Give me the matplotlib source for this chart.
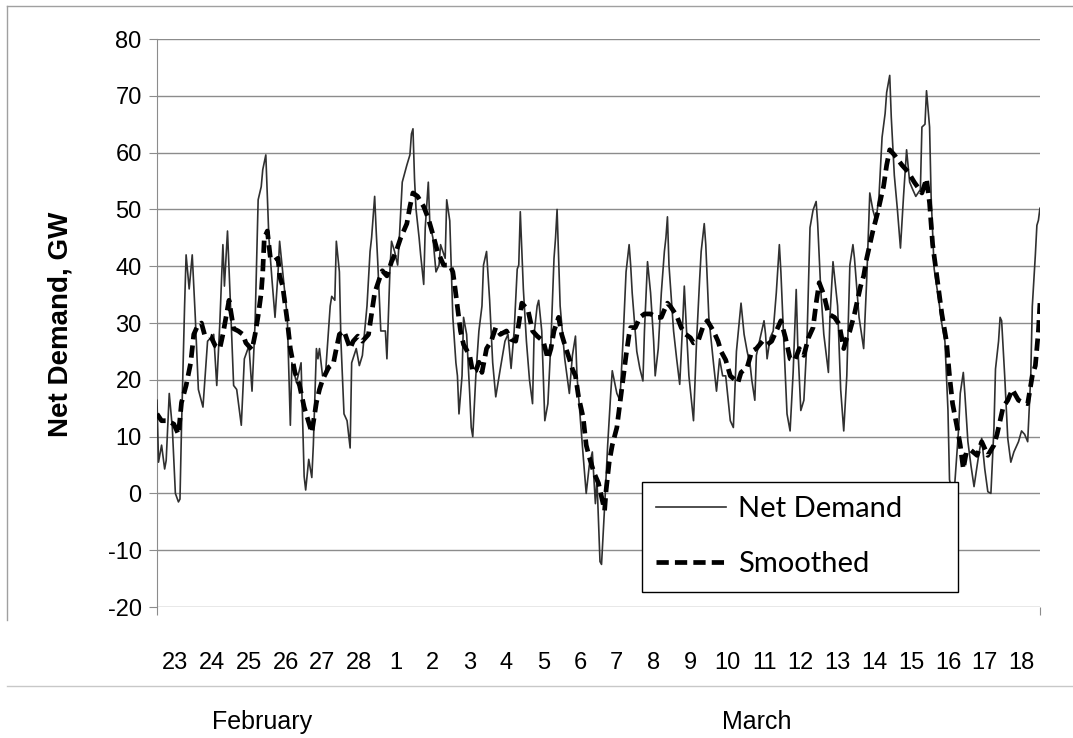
import numpy as np
import matplotlib.pyplot as plt
from matplotlib.lines import Line2D
import matplotlib.transforms as mtransforms

plt.rcParams['axes.unicode_minus'] = False

# hours since 00:00 Feb 23, net demand in GW
nd_hours = [0, 1, 3, 5, 6, 8, 10, 12, 14, 15, 16, 18, 19, 21, 23, 25, 27, 30, 33, 37,
            39, 41, 43, 44, 46, 48, 50, 52, 55, 57, 60, 62, 64, 66, 68, 69, 71, 73, 75, 77,
            79, 80, 82, 85, 87, 88, 91, 94, 96, 97, 99, 101, 102, 104, 105, 106, 108, 110, 113, 114,
            116, 117, 119, 120, 122, 124, 126, 127, 130, 132, 134, 137, 139, 140, 142, 143, 144, 146, 149, 150,
            152, 153, 155, 157, 158, 160, 163, 165, 166, 167, 168, 169, 171, 172, 174, 175, 177, 178, 180, 182,
            184, 185, 188, 189, 191, 193, 195, 196, 197, 199, 200, 202, 204, 205, 206, 208, 210, 212, 213, 215,
            217, 219, 221, 224, 227, 229, 231, 233, 235, 236, 237, 239, 241, 243, 245, 246, 248, 249, 251, 253,
            255, 257, 259, 260, 261, 263, 266, 269, 271, 273, 274, 278, 280, 282, 284, 286, 287, 289, 290, 292,
            294, 296, 297, 300, 302, 304, 306, 308, 309, 310, 313, 315, 317, 318, 320, 322, 324, 325, 327, 329,
            331, 332, 333, 334, 337, 339, 341, 343, 344, 345, 347, 350, 352, 354, 355, 357, 358, 360, 363, 365,
            367, 369, 371, 374, 376, 378, 381, 383, 385, 387, 388, 390, 391, 393, 396, 397, 398, 400, 402, 404,
            406, 407, 409, 411, 413, 415, 417, 418, 420, 422, 424, 426, 428, 430, 431, 433, 435, 438, 439, 441,
            444, 446, 448, 450, 452, 454, 455, 458, 460, 461, 463, 465, 467, 469, 471, 473, 475, 476, 478, 479,
            481, 483, 485, 487, 489, 491, 493, 495, 498, 499, 501, 502, 504, 505, 507, 510, 512, 514, 516, 517,
            519, 520, 523, 524, 526, 527, 529, 531, 533, 536, 538, 540, 542, 544, 546, 547, 549, 550, 551, 553,
            555, 557, 559, 562, 564, 566, 568, 570, 571, 573, 574, 575, 576]
nd_gw = [16.4, 5.5, 8.5, 4.3, 5.8, 17.6, 11.6, 0, -1.5, -1, 11.6, 32.9, 42, 36, 42, 31, 18.3, 15.2, 26.8, 28,
         19, 30, 43.8, 36.5, 46.2, 32.9, 19, 18.3, 12, 23.7, 26, 18, 30, 51.7, 54, 57, 59.6, 45, 37.7, 31,
         39, 44.4, 39, 31, 12, 23, 19.5, 23, 3, 0.6, 6, 2.8, 8.5, 25.5, 23.7, 25.5, 20.7, 21.3, 33, 34.7,
         34, 44.4, 39, 26.8, 14, 12.8, 8, 23, 25.5, 22.5, 24.3, 33, 42.6, 45, 52.3, 46.2, 40.8, 28.6, 28.6, 23.7,
         39.5, 44.4, 42.6, 40.2, 44.4, 54.8, 57.8, 59.6, 63.3, 64.2, 55.4, 50, 45, 42, 36.8, 46.8, 54.8, 47.5, 45, 39,
         40.2, 43.8, 41.4, 51.7, 48, 31, 23, 20.7, 14, 20.7, 31, 28, 17.6, 11.6, 10, 20.7, 28.6, 33, 40.2, 42.6,
         34, 23, 17, 22, 26.8, 28, 22, 28.6, 39.5, 40.2, 49.6, 36, 26.8, 20, 15.8, 28, 33, 34, 28.6, 12.8,
         15.8, 26.8, 41.4, 45, 50, 33, 23.7, 17.6, 24.3, 27.7, 20.7, 6.7, 0, 4.9, 7.3, -1.8, 2.5, -12, -12.5, -2.4,
         8.5, 17.6, 21.6, 17.6, 16.4, 26.8, 39, 43.8, 40.2, 35.3, 25, 22, 19.8, 28.6, 40.8, 35.3, 26.8, 20.7, 25.5, 35.3,
         42.6, 45, 48.7, 40.2, 28.6, 23.7, 19.2, 30.4, 36.5, 31, 20.7, 12.8, 26.8, 37.7, 42.6, 47.5, 43.8, 31, 23, 18,
         23.7, 20.7, 20.7, 12.8, 11.6, 25, 33.5, 28, 25, 22.5, 20, 16.4, 24.3, 26.8, 30.4, 28, 23.7, 27.4, 28.6, 35.3,
         43.8, 39, 26.2, 14, 11, 21.3, 35.9, 26.2, 14.6, 16.4, 26.8, 46.8, 49.9, 51.4, 47.5, 35.9, 28, 21.3, 31, 40.8,
         33, 18.3, 11, 20.7, 40.2, 43.8, 41.4, 31, 27.4, 25.5, 37.7, 52.9, 49.9, 48, 52.3, 62.7, 66.9, 70.6, 73.6, 66.3,
         56, 50, 43.2, 52.3, 60.5, 54.8, 53.5, 52.3, 53.5, 64.5, 65, 70.9, 64.5, 52.3, 39.5, 34, 29.8, 26.8, 14.6, 2.4,
         0, 0, 11.6, 17.6, 21.3, 17.6, 9.1, 4.9, 1.2, 6.7, 9.7, 4.3, 0.3, 0, 11.6, 21.9, 26.8, 31, 30.4, 20.7,
         9.7, 5.5, 7.3, 9.1, 11, 10.4, 9.1, 20.7, 32.9, 42, 47.2, 48.1, 50.2]

sm_hours = [0, 3, 7, 11, 14, 16, 19, 22, 24, 26, 29, 31, 35, 38, 41, 43, 45, 47, 50, 53,
            56, 58, 62, 64, 66, 68, 69, 70, 72, 74, 77, 79, 80, 82, 85, 87, 90, 93, 96, 101,
            104, 106, 108, 112, 115, 117, 119, 122, 126, 128, 131, 134, 138, 140, 142, 145, 147, 150, 153, 156,
            159, 163, 165, 167, 170, 174, 177, 180, 183, 187, 191, 193, 194, 196, 198, 200, 204, 206, 208, 210,
            212, 215, 218, 221, 224, 228, 231, 234, 236, 238, 242, 245, 248, 252, 255, 257, 259, 262, 264, 266,
            269, 271, 273, 275, 278, 280, 282, 285, 288, 290, 292, 293, 295, 297, 300, 302, 304, 306, 308, 309,
            312, 315, 318, 322, 326, 329, 331, 333, 335, 339, 342, 345, 348, 350, 353, 356, 359, 363, 366, 368,
            371, 374, 377, 379, 381, 385, 388, 391, 395, 398, 401, 404, 407, 410, 413, 416, 419, 422, 425, 428,
            430, 432, 435, 438, 442, 445, 448, 450, 452, 455, 459, 461, 463, 465, 467, 470, 472, 474, 476, 478,
            481, 486, 490, 494, 499, 502, 504, 506, 509, 512, 515, 517, 519, 522, 524, 526, 528, 531, 535, 538,
            542, 546, 548, 550, 552, 555, 558, 562, 565, 568, 571, 573, 575, 576]
sm_gw = [14, 12.8, 12.8, 12.2, 10.4, 16, 19, 23, 28, 29.2, 30, 28, 27.7, 26, 25.5, 28, 31, 34, 29, 28.6,
         28, 26.5, 25.3, 28, 31.3, 35.3, 39, 45, 46.2, 41.4, 41, 41.4, 38.3, 36.5, 30.4, 25.5, 21.3, 19, 15.2, 10.7,
         16, 18.3, 20, 22.2, 22.8, 25.5, 28, 28.6, 25.5, 26.8, 27.7, 26.8, 28, 31.6, 35.3, 37.7, 39.2, 38.3, 40.8, 42.6,
         45, 47.5, 50.5, 52.9, 52.3, 50.5, 48.4, 45.6, 42.6, 40.2, 40.2, 39, 37.1, 32.9, 28.6, 26.2, 24.3, 21.3, 21.6, 23.1,
         21.3, 25.5, 26.8, 29.2, 28, 28.6, 27.1, 26.8, 29.8, 33.5, 32.3, 28.6, 27.7, 26.8, 23.7, 25.5, 28.6, 31, 28, 26.2,
         23.7, 21.9, 20.7, 17, 13.4, 8.5, 6.4, 3.7, 1.8, -0.6, -3, 0.6, 5.5, 8.5, 11.6, 15.8, 20, 24.3, 28, 29.2,
         29.2, 31, 31.6, 31.6, 31, 31, 32.3, 33.5, 32.9, 31.3, 29.2, 28, 27.4, 26.5, 26.8, 29.2, 30.4, 28.6, 26.8, 25,
         23.5, 20.7, 20, 19.5, 21.3, 22.2, 25, 25.5, 26.8, 26.2, 26.8, 28.6, 30.4, 27.4, 23.7, 23.4, 25.5, 24.3, 27.4, 29.2,
         33.5, 37.1, 35, 31.6, 31, 29.8, 25.5, 27.4, 28.6, 31.6, 36.5, 38.3, 41.4, 43.8, 46.2, 49.3, 51.7, 54.1, 57.8, 60.5,
         59.6, 57.8, 56.6, 54.8, 52.9, 55.4, 51.1, 43.8, 37.7, 31.6, 26.8, 20.7, 15.8, 11.6, 8.5, 4.3, 7.3, 7.6, 6.7, 9.1,
         6.7, 8.5, 10.4, 12.8, 15.2, 16.4, 18.3, 16.4, 16, 15.8, 20.7, 22.5, 28.6, 33.5]

day_labels = ['23', '24', '25', '26', '27', '28', '1', '2', '3', '4', '5', '6',
              '7', '8', '9', '10', '11', '12', '13', '14', '15', '16', '17', '18']
months = ['February', 'March']

fig = plt.figure(figsize=(10.73, 7.38), dpi=100)
ax = fig.add_axes([0.1463, 0.1775, 0.8229, 0.7696])

ax.plot(nd_hours, nd_gw, color='#303030', linewidth=1.2, label='Net Demand', zorder=3)
ax.plot(sm_hours, sm_gw, color='black', linewidth=3.4, dashes=(2.6, 1.3),
        label='Smoothed', zorder=4)

ax.set_xlim(0, 24 * len(day_labels))
ax.set_ylim(-20, 80)
ax.set_yticks(np.arange(-20, 81, 10))
ax.set_xticks([0, 24 * len(day_labels)])
ax.set_xticklabels([])
ax.grid(axis='y', color='#8c8c8c', linewidth=1.0)
ax.set_axisbelow(True)

for side in ['top', 'right', 'bottom']:
    ax.spines[side].set_visible(False)
ax.spines['left'].set_color('#8c8c8c')
ax.tick_params(axis='y', direction='out', length=6, color='#8c8c8c',
               labelsize=17, pad=5)
ax.tick_params(axis='x', direction='out', length=6, color='#8c8c8c')
for lbl in ax.get_yticklabels():
    lbl.set_fontfamily('Liberation Sans')

fig.text(0.056, 0.56, 'Net Demand, GW', rotation=90, ha='center', va='center',
         fontsize=20, fontweight='bold', family='Liberation Sans')

# day labels under the axis
trans = mtransforms.blended_transform_factory(ax.transData, fig.transFigure)
for i, lab in enumerate(day_labels):
    ax.text(24 * i + 12, 0.101, lab, transform=trans, ha='center', va='center',
            fontsize=17, family='Liberation Sans')

fig.text(0.244, 0.022, months[0], ha='center', va='center', fontsize=18,
         family='Liberation Sans')
fig.text(0.7055, 0.022, months[1], ha='center', va='center', fontsize=18,
         family='Liberation Sans')

# frame lines of the original chart
fig.add_artist(Line2D([0.0065, 0.0065], [0.16, 0.992], color='#a0a0a0', lw=1.0))
fig.add_artist(Line2D([0.0065, 1.0], [0.992, 0.992], color='#a0a0a0', lw=1.0))
fig.add_artist(Line2D([0.0065, 1.0], [0.0705, 0.0705], color='#c8c8c8', lw=1.0))

leg = ax.legend(loc='lower left', bbox_to_anchor=(0.598, 0.198, 0.295, 0.149),
                bbox_transform=fig.transFigure, mode='expand', fancybox=False,
                framealpha=1, edgecolor='black', borderaxespad=0,
                handlelength=2.4, handletextpad=0.4, borderpad=0.5,
                labelspacing=1.0, prop={'family': 'Lato', 'size': 21})
leg.get_frame().set_linewidth(1.0)

fig.savefig('out.png', dpi=100)
